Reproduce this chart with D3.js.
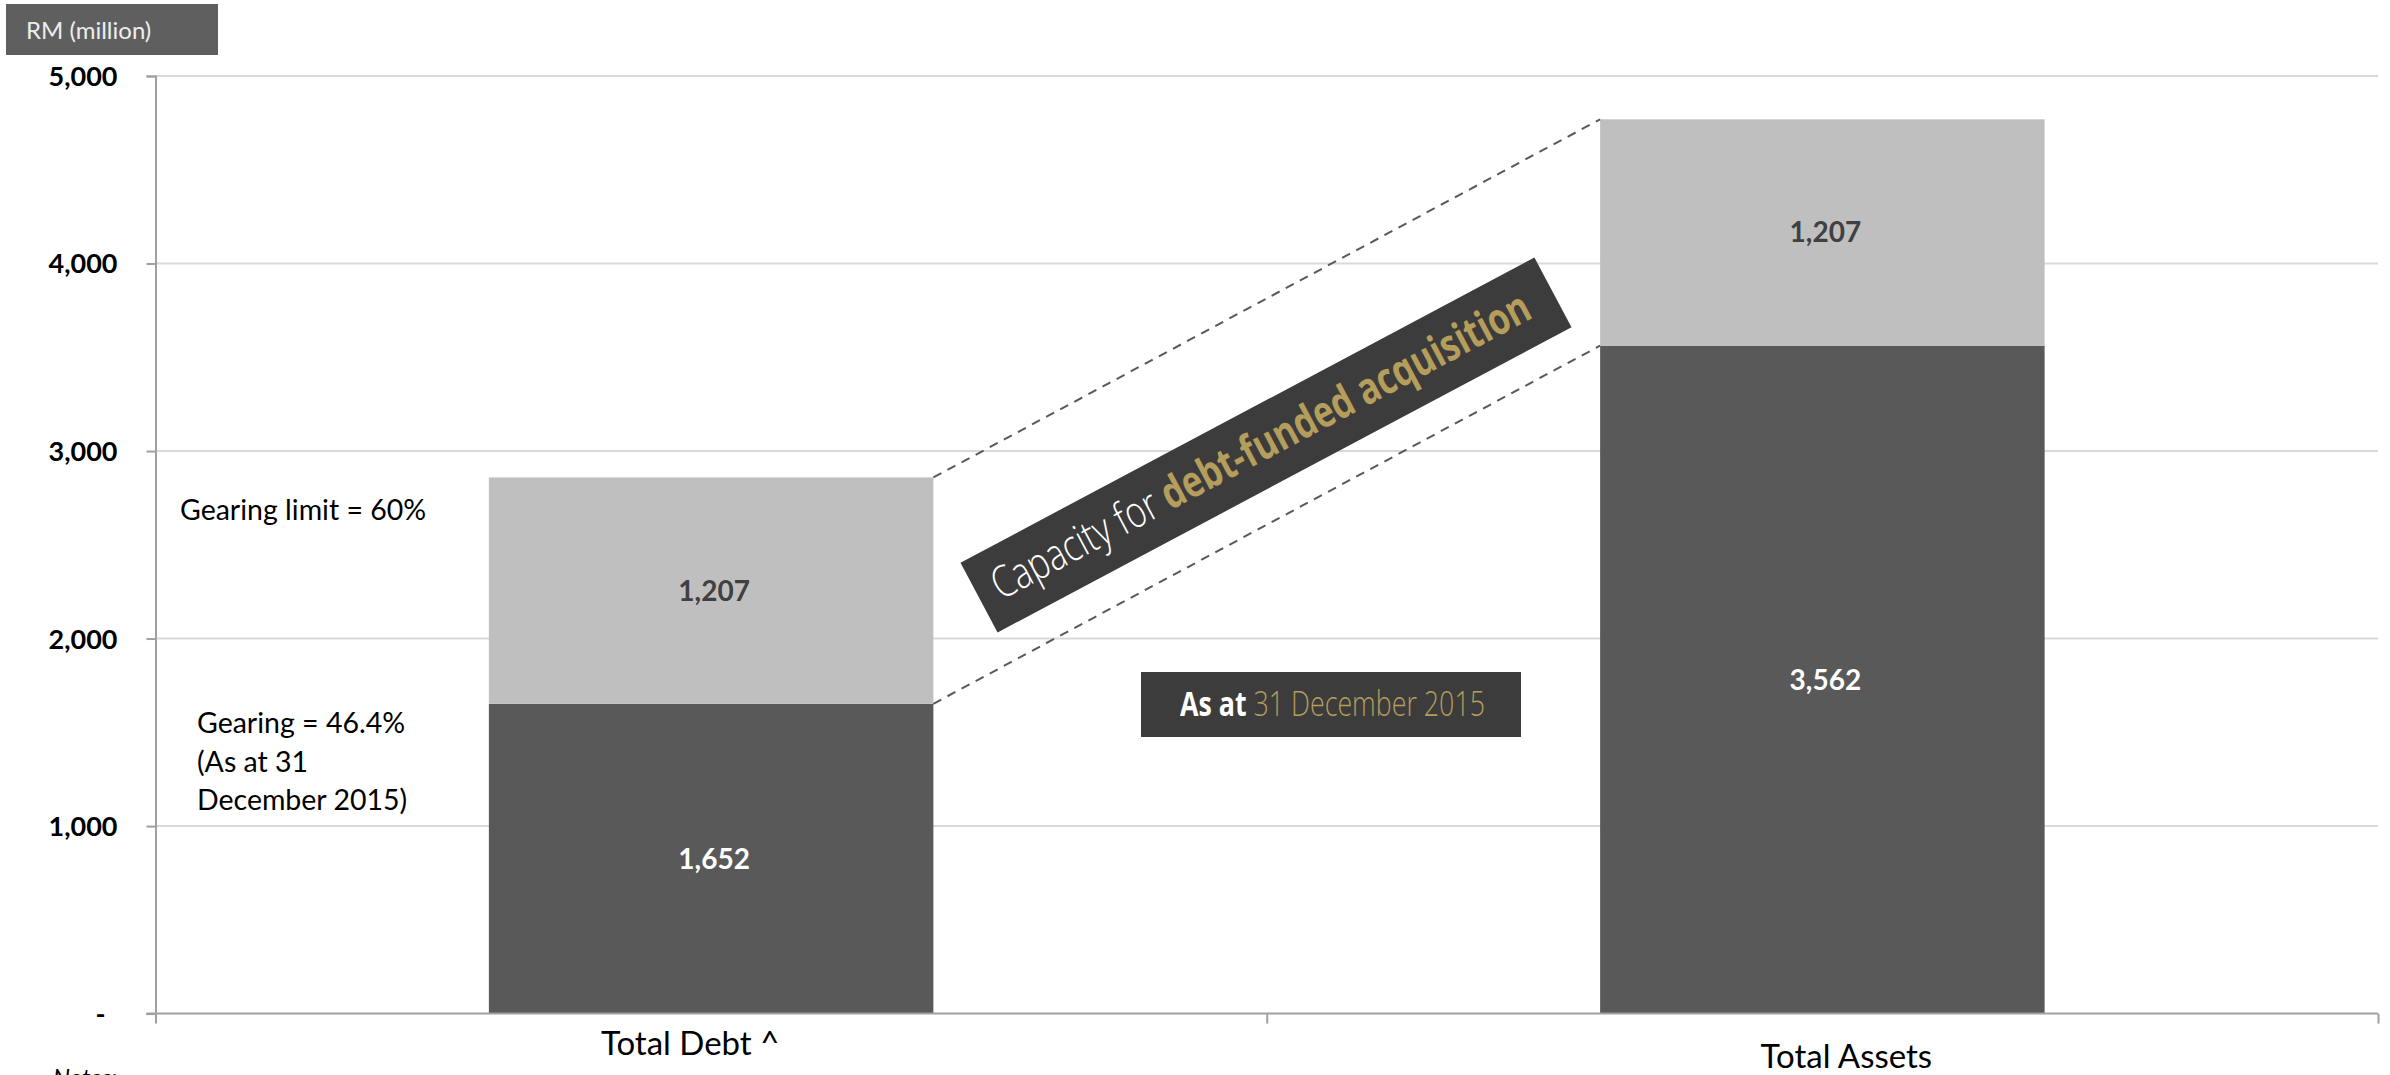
<!DOCTYPE html>
<html>
<head>
<meta charset="utf-8">
<script src="https://cdn.jsdelivr.net/npm/d3@7"></script>
<style>
  html, body { margin: 0; padding: 0; background: #fff; overflow: hidden; }
  svg { display: block; }
</style>
</head>
<body>
<svg id="chart" width="2390" height="1075"></svg>
<script>
// Debt headroom: current debt vs. total assets, with the extra borrowing capacity on top
const categories = ["Total Debt ^", "Total Assets"];
const currentValues = [1652, 3562];   // existing debt / existing assets
const capacityValues = [1207, 1207];  // debt capacity up to the 60% gearing limit
const yTickValues = [0, 1000, 2000, 3000, 4000, 5000];
const yTickLabels = ["-", "1,000", "2,000", "3,000", "4,000", "5,000"];

const W = 2390, H = 1075;
const plot = { left: 155.5, right: 2378, top: 76, bottom: 1013.6 };
const FONT = "Lato, 'Open Sans', sans-serif";

const svg = d3.select("#chart");

const x = d3.scaleBand().domain(categories).range([plot.left, plot.right]).padding(0);
const barW = x.bandwidth() * 0.4;
const barX = c => x(c) + (x.bandwidth() - barW) / 2;
const y = d3.scaleLinear().domain([0, 5000]).range([plot.bottom, plot.top]);

const rows = categories.map((c, i) => ({ cat: c, current: currentValues[i], capacity: capacityValues[i] }));
const stack = d3.stack().keys(["current", "capacity"]);
const layers = stack(rows);
const fills = { current: "#595959", capacity: "#bfbfbf" };
const labelColors = { current: "#ffffff", capacity: "#404040" };

// Gridlines
svg.append("g")
  .selectAll("line")
  .data(yTickValues.filter(v => v > 0))
  .join("line")
  .attr("x1", plot.left).attr("x2", plot.right)
  .attr("y1", d => y(d)).attr("y2", d => y(d))
  .attr("stroke", "#d9d9d9").attr("stroke-width", 2);

// Stacked bars
const layerG = svg.append("g").selectAll("g").data(layers).join("g")
  .attr("fill", d => fills[d.key]);
layerG.selectAll("rect")
  .data(d => d)
  .join("rect")
  .attr("x", d => barX(d.data.cat))
  .attr("y", d => y(d[1]))
  .attr("width", barW)
  .attr("height", d => y(d[0]) - y(d[1]));

// Value labels inside segments
layers.forEach(layer => {
  svg.append("g").selectAll("text")
    .data(layer)
    .join("text")
    .attr("x", d => barX(d.data.cat) + barW / 2 + 3)
    .attr("y", d => (y(d[0]) + y(d[1])) / 2 + 10)
    .attr("text-anchor", "middle")
    .attr("font-family", FONT)
    .attr("font-weight", 700)
    .attr("font-size", 28)
    .attr("fill", labelColors[layer.key])
    .text(d => d3.format(",")(d[1] - d[0]));
});

// Dashed connectors between the segment tops of the two bars
svg.append("g").selectAll("line")
  .data(layers)
  .join("line")
  .attr("x1", barX(categories[0]) + barW)
  .attr("y1", d => y(d[0][1]))
  .attr("x2", barX(categories[1]))
  .attr("y2", d => y(d[1][1]))
  .attr("stroke", "#595959")
  .attr("stroke-width", 2)
  .attr("stroke-dasharray", "9,7");

// Y axis
const yAxis = d3.axisLeft(y)
  .tickValues(yTickValues)
  .tickFormat((d, i) => yTickLabels[i])
  .tickSize(9)
  .tickPadding(29);
const yg = svg.append("g").attr("transform", `translate(${plot.left},0)`).call(yAxis);
yg.select(".domain").attr("stroke", "#a0a0a0").attr("stroke-width", 2);
yg.selectAll(".tick line").attr("stroke", "#a0a0a0").attr("stroke-width", 2);
yg.selectAll(".tick text")
  .attr("font-family", FONT)
  .attr("font-weight", 700)
  .attr("font-size", 27)
  .attr("fill", "#000")
  .attr("dy", "0.35em")
  .attr("dx", (d, i) => d === 0 ? -12 : 0);

// X axis with ticks at the category boundaries
const xEdges = d3.scaleLinear().domain([0, categories.length]).range([plot.left, plot.right]);
const xAxis = d3.axisBottom(xEdges).tickValues(d3.range(categories.length + 1)).tickFormat("").tickSize(10).tickSizeOuter(0);
const xg = svg.append("g").attr("transform", `translate(0,${plot.bottom})`).call(xAxis);
xg.select(".domain").attr("stroke", "#a0a0a0").attr("stroke-width", 2)
  .attr("d", `M${plot.left - 9},0H${plot.right}`);
xg.selectAll(".tick line").attr("stroke", "#a0a0a0").attr("stroke-width", 2);

// Category labels
const catOffsets = [{ dx: -21, y: 1055 }, { dx: 24, y: 1068 }];
svg.append("g").selectAll("text")
  .data(categories)
  .join("text")
  .attr("x", (d, i) => x(d) + x.bandwidth() / 2 + catOffsets[i].dx)
  .attr("y", (d, i) => catOffsets[i].y)
  .attr("text-anchor", "middle")
  .attr("font-family", FONT)
  .attr("font-size", 33)
  .attr("fill", "#000")
  .text(d => d);

// Unit badge
svg.append("rect").attr("x", 6).attr("y", 4).attr("width", 212).attr("height", 51).attr("fill", "#5f5f5f");
svg.append("text").attr("x", 26).attr("y", 39)
  .attr("font-family", FONT).attr("font-size", 24).attr("fill", "#ededed")
  .text("RM (million)");

// Gearing annotations
svg.append("text").attr("x", 180).attr("y", 520)
  .attr("font-family", FONT).attr("font-size", 28.5).attr("fill", "#000")
  .text("Gearing limit = 60%");
const gearing = svg.append("text").attr("font-family", FONT).attr("font-size", 28.5).attr("fill", "#000");
["Gearing = 46.4%", "(As at 31", "December 2015)"].forEach((t, i) => {
  gearing.append("tspan").attr("x", 197).attr("y", 733 + i * 38.5).text(t);
});

// Tilted banner
const banner = svg.append("g").attr("transform", "translate(1266,445) rotate(-28)");
banner.append("rect").attr("x", -325).attr("y", -39.5).attr("width", 650).attr("height", 79).attr("fill", "#3c3c3c");
const bt = banner.append("text")
  .attr("x", -307).attr("y", 13)
  .attr("font-family", "'Open Sans', sans-serif")
  .attr("font-size", 44)
  .attr("textLength", 604)
  .attr("lengthAdjust", "spacingAndGlyphs");
bt.append("tspan").attr("fill", "#ffffff").attr("font-weight", 300).text("Capacity for ");
bt.append("tspan").attr("fill", "#b59d5b").attr("font-weight", 700).text("debt-funded acquisition");

// Date badge
svg.append("rect").attr("x", 1141).attr("y", 672).attr("width", 380).attr("height", 65).attr("fill", "#3c3c3c");
const dt = svg.append("text")
  .attr("x", 1180).attr("y", 716)
  .attr("font-family", "'Open Sans', sans-serif")
  .attr("font-size", 34)
  .attr("textLength", 305)
  .attr("lengthAdjust", "spacingAndGlyphs");
dt.append("tspan").attr("fill", "#ffffff").attr("font-weight", 700).text("As at ");
dt.append("tspan").attr("fill", "#b59d5b").attr("font-weight", 300).text("31 December 2015");

// Footnote heading
svg.append("text").attr("x", 53).attr("y", 1086)
  .attr("font-family", FONT).attr("font-style", "italic").attr("font-size", 24).attr("fill", "#000")
  .text("Notes:");
</script>
</body>
</html>
